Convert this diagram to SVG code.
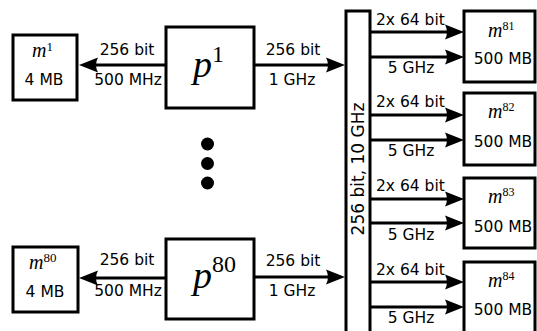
<svg xmlns="http://www.w3.org/2000/svg" width="537" height="331" viewBox="0 0 537 331">
<style>
.box{fill:#fff;stroke:#000;stroke-width:3}
.ln{stroke:#000;stroke-width:3;fill:none;marker-end:url(#ah)}
.t{font-family:"DejaVu Sans",sans-serif;font-size:15.5px;fill:#000}
.c{text-anchor:middle}
.mth{font-family:"Liberation Serif",serif;font-style:italic;fill:#000}
.sup{font-style:normal}
</style>
<defs>
<marker id="ah" markerUnits="userSpaceOnUse" orient="auto" overflow="visible" markerWidth="1" markerHeight="1" refX="0" refY="0">
<path d="M10,0 L-9,-7.5 Q-5,0 -9,7.5 Z" fill="#000"/>
</marker>
</defs>
<rect width="537" height="331" fill="#fff"/>

<g id="connectors">
<line class="ln" x1="166" y1="65" x2="89" y2="65"/>
<line class="ln" x1="254" y1="65" x2="335" y2="65"/>
<line class="ln" x1="166" y1="278" x2="89" y2="278"/>
<line class="ln" x1="254" y1="277" x2="335" y2="277"/>
<line class="ln" x1="370" y1="32" x2="454" y2="32"/>
<line class="ln" x1="370" y1="57" x2="454" y2="57"/>
<line class="ln" x1="370" y1="115" x2="454" y2="115"/>
<line class="ln" x1="370" y1="140" x2="454" y2="140"/>
<line class="ln" x1="370" y1="199" x2="454" y2="199"/>
<line class="ln" x1="370" y1="223" x2="454" y2="223"/>
<line class="ln" x1="370" y1="282" x2="454" y2="282"/>
<line class="ln" x1="370" y1="307" x2="454" y2="307"/>
<text class="t c" x="127" y="55">256 bit</text>
<text class="t c" x="128" y="85">500 MHz</text>
<text class="t c" x="293" y="55">256 bit</text>
<text class="t c" x="292" y="85">1 GHz</text>
<text class="t c" x="127" y="265">256 bit</text>
<text class="t c" x="128" y="296">500 MHz</text>
<text class="t c" x="293" y="266">256 bit</text>
<text class="t c" x="292" y="296">1 GHz</text>
<text class="t" x="376" y="25">2x 64 bit</text>
<text class="t c" x="411" y="73">5 GHz</text>
<text class="t" x="376" y="107">2x 64 bit</text>
<text class="t c" x="411" y="156">5 GHz</text>
<text class="t" x="376" y="191">2x 64 bit</text>
<text class="t c" x="411" y="240">5 GHz</text>
<text class="t" x="376" y="275">2x 64 bit</text>
<text class="t c" x="411" y="323">5 GHz</text>
</g>

<g id="m1">
<rect class="box" x="13" y="35" width="64" height="65"/>
<text class="mth" x="32" y="57" font-size="20">m<tspan class="sup" font-size="13" dy="-6">1</tspan></text>
<text class="t c" x="44" y="85">4 MB</text>
</g>
<g id="p1">
<rect class="box" x="166" y="27" width="88" height="81"/>
<text class="mth" x="193" y="77" font-size="38">p<tspan class="sup" font-size="24" dy="-15">1</tspan></text>
</g>
<g id="dots">
<circle cx="207.5" cy="144" r="6.5" fill="#000"/>
<circle cx="207.5" cy="163.5" r="6.5" fill="#000"/>
<circle cx="207.5" cy="183" r="6.5" fill="#000"/>
</g>
<g id="m80">
<rect class="box" x="13" y="247" width="65" height="65"/>
<text class="mth" x="29" y="269" font-size="20">m<tspan class="sup" font-size="13" dy="-7">80</tspan></text>
<text class="t c" x="45" y="297">4 MB</text>
</g>
<g id="p80">
<rect class="box" x="166" y="239" width="88" height="80"/>
<text class="mth" x="193" y="288" font-size="38">p<tspan class="sup" font-size="24" dy="-16">80</tspan></text>
</g>
<g id="bus">
<rect class="box" x="346" y="11" width="24" height="330"/>
<text class="t c" style="font-size:17px" transform="translate(363.5,169) rotate(-90)">256 bit, 10 GHz</text>
</g>
<g id="m81">
<rect class="box" x="464" y="11" width="71" height="71"/>
<text class="mth" x="488" y="37" font-size="20">m<tspan class="sup" font-size="12" dy="-7">81</tspan></text>
<text class="t c" x="503" y="64">500 MB</text>
</g>
<g id="m82">
<rect class="box" x="464" y="93" width="71" height="72"/>
<text class="mth" x="488" y="118" font-size="20">m<tspan class="sup" font-size="12" dy="-7">82</tspan></text>
<text class="t c" x="503" y="147">500 MB</text>
</g>
<g id="m83">
<rect class="box" x="464" y="178" width="71" height="70"/>
<text class="mth" x="488" y="203" font-size="20">m<tspan class="sup" font-size="12" dy="-7">83</tspan></text>
<text class="t c" x="503" y="232">500 MB</text>
</g>
<g id="m84">
<rect class="box" x="464" y="262" width="71" height="80"/>
<text class="mth" x="488" y="287" font-size="20">m<tspan class="sup" font-size="12" dy="-7">84</tspan></text>
<text class="t c" x="503" y="315">500 MB</text>
</g>
</svg>
